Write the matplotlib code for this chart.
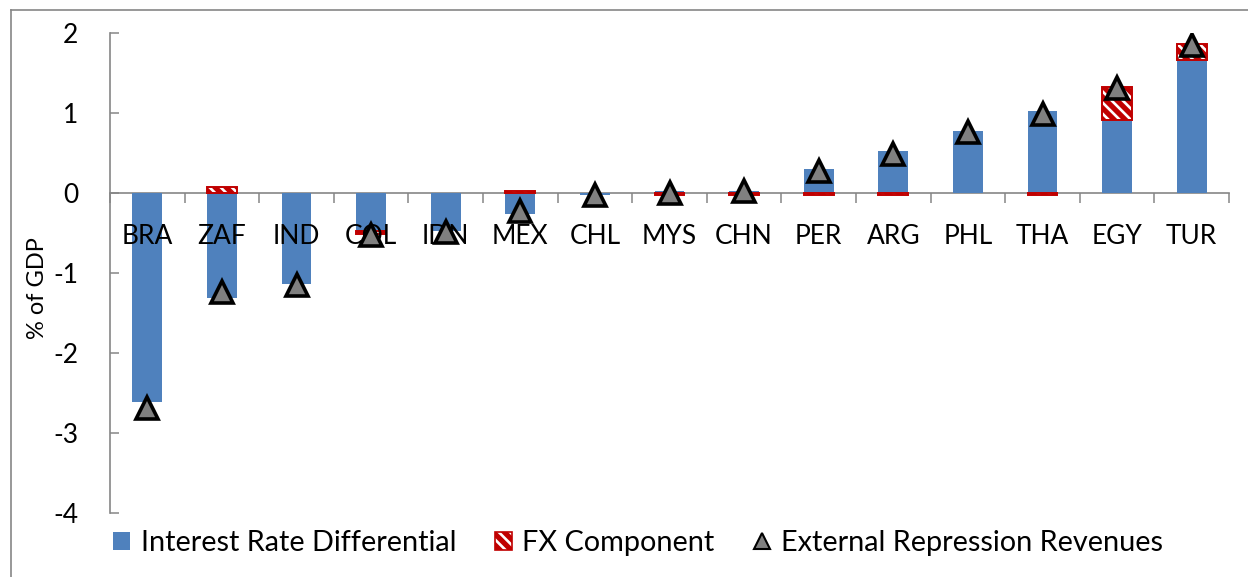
import matplotlib
matplotlib.use("Agg")
import matplotlib.pyplot as plt
from matplotlib.patches import Patch
from matplotlib.lines import Line2D
import numpy as np

plt.rcParams['font.family'] = ['Lato', 'DejaVu Sans']
plt.rcParams['hatch.color'] = 'white'
plt.rcParams['hatch.linewidth'] = 1.9

# Countries, ordered by external repression revenues
countries = ["BRA", "ZAF", "IND", "COL", "IDN", "MEX", "CHL", "MYS",
             "CHN", "PER", "ARG", "PHL", "THA", "EGY", "TUR"]
# Interest rate differential component (% of GDP)
interest_diff = [-2.61, -1.31, -1.14, -0.48, -0.48, -0.26, -0.03, 0.02,
                 0.03, 0.30, 0.52, 0.78, 1.02, 0.91, 1.66]
# FX component (% of GDP)
fx_component = [0.00, 0.08, 0.00, -0.03, 0.00, 0.03, 0.00, -0.03,
                -0.02, -0.02, -0.02, 0.00, -0.03, 0.42, 0.20]
# Total external repression revenues (% of GDP)
total_revenues = [-2.69, -1.24, -1.15, -0.52, -0.49, -0.23, -0.02, 0.00,
                  0.03, 0.27, 0.49, 0.76, 0.99, 1.31, 1.85]
y_ticks = [2, 1, 0, -1, -2, -3, -4]

BLUE = "#4F81BD"
RED = "#C00000"
GREY = "#868686"
W, H = 1248, 577

fig = plt.figure(figsize=(W / 100, H / 100), dpi=100)
ax = fig.add_axes([110 / W, 1 - 513 / H, (1229 - 110) / W, (513 - 33) / H])

x = np.arange(len(countries))
ird = np.array(interest_diff)
fx = np.array(fx_component)

# FX part is stacked on the end of the interest-rate bar with the same sign
fx_base = np.where(np.sign(fx) == np.sign(ird), ird, 0.0)
has_fx = fx != 0

width = 0.40
ax.bar(x, ird, width, color=BLUE, linewidth=0, zorder=1)
ax.bar(x[has_fx], fx[has_fx], width, bottom=fx_base[has_fx], color=RED,
       linewidth=0, hatch='\\\\\\', zorder=1.1)
ax.bar(x[has_fx], fx[has_fx], width, bottom=fx_base[has_fx], fill=False,
       edgecolor=RED, linewidth=1.4, zorder=1.2)
ax.plot(x, total_revenues, linestyle='none', marker='^', markersize=16,
        markerfacecolor='#808080', markeredgecolor='black',
        markeredgewidth=2.6, zorder=3)

ax.set_xlim(-0.5, len(countries) - 0.5)
ax.set_ylim(-4, 2)

for side in ("top", "right"):
    ax.spines[side].set_visible(False)
ax.spines["left"].set_color(GREY)
ax.spines["left"].set_linewidth(1.2)
ax.spines["bottom"].set_position(("data", 0))
ax.spines["bottom"].set_color(GREY)
ax.spines["bottom"].set_linewidth(1.2)
ax.spines["bottom"].set_zorder(0.5)

ax.set_yticks(y_ticks)
ax.set_yticklabels([str(v) for v in y_ticks])
ax.tick_params(axis='y', direction='in', length=6.5, width=1.1, color=GREY,
               pad=23, labelsize=19)

ax.set_xticks(x)
ax.set_xticklabels(countries)
ax.set_xticks(np.arange(-0.5, len(countries), 1), minor=True)
ax.tick_params(axis='x', which='major', length=0, pad=22.5, labelsize=19)
ax.tick_params(axis='x', which='minor', direction='out', length=7.5,
               width=1.1, color=GREY)

ax.set_ylabel("% of GDP", fontsize=17)
ax.yaxis.set_label_coords(48 / W, 0.5, transform=fig.transFigure)

# Outer chart frame (left and top edges)
fig.add_artist(Line2D([11 / W, 11 / W], [0, 1 - 10 / H], color=GREY,
                      linewidth=1.2, transform=fig.transFigure))
fig.add_artist(Line2D([11 / W, 1], [1 - 10 / H, 1 - 10 / H], color=GREY,
                      linewidth=1.2, transform=fig.transFigure))

handles = [
    Patch(facecolor=BLUE, linewidth=0),
    (Patch(facecolor=RED, hatch='\\\\\\', linewidth=0),
     Patch(fill=False, edgecolor=RED, linewidth=1.2)),
    Line2D([], [], linestyle='none', marker='^', markersize=12,
           markerfacecolor='#808080', markeredgecolor='black',
           markeredgewidth=1.5),
]
labels = ["Interest Rate Differential", "FX Component",
          "External Repression Revenues"]
fig.legend(handles, labels, loc='center', ncol=3, frameon=False,
           bbox_to_anchor=(638 / W, 1 - 543 / H), fontsize=20.8,
           handlelength=0.58, handleheight=0.58, handletextpad=0.38,
           columnspacing=1.33)

fig.savefig("out.png", dpi=100)
